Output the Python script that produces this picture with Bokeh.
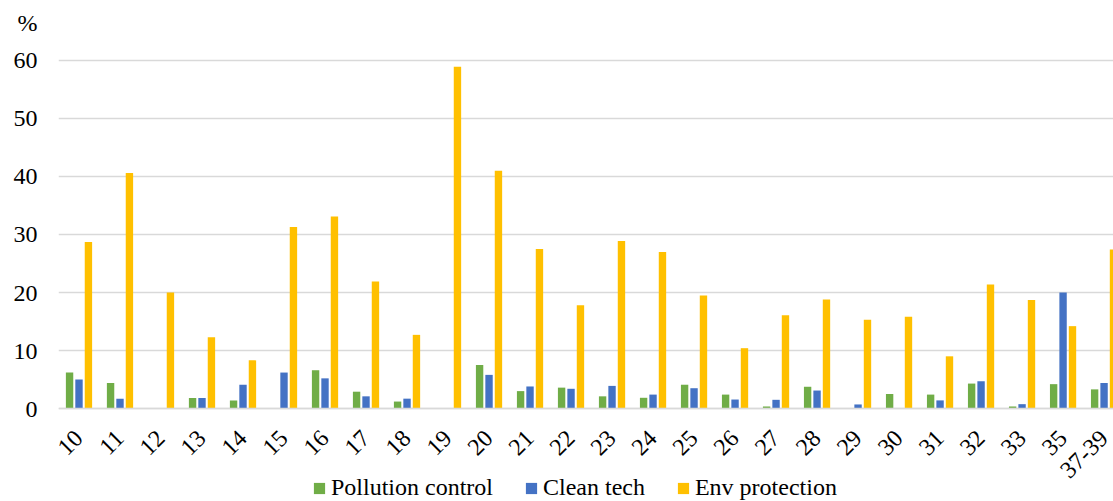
import numpy as np
from bokeh.plotting import figure
from bokeh.models import (ColumnDataSource, Range1d, FixedTicker, Legend, LegendItem)
from bokeh.transform import dodge
from bokeh.embed import file_html
from bokeh.resources import INLINE
from math import pi

categories = ["10", "11", "12", "13", "14", "15", "16", "17", "18", "19", "20", "21", "22",
              "23", "24", "25", "26", "27", "28", "29", "30", "31", "32", "33", "35", "37-39"]
pollution_control = [6.2, 4.4, 0.0, 1.8, 1.4, 0.0, 6.6, 2.9, 1.2, 0.0, 7.5, 3.0, 3.6,
                     2.1, 1.85, 4.1, 2.4, 0.35, 3.75, 0.0, 2.5, 2.4, 4.3, 0.35, 4.2, 3.3]
clean_tech = [5.0, 1.7, 0.0, 1.8, 4.1, 6.2, 5.2, 2.1, 1.7, 0.0, 5.8, 3.8, 3.4,
              3.9, 2.4, 3.5, 1.55, 1.5, 3.1, 0.7, 0.0, 1.4, 4.7, 0.75, 20.0, 4.4]
env_protection = [28.7, 40.6, 20.0, 12.3, 8.3, 31.3, 33.1, 21.9, 12.7, 58.9, 41.0, 27.5, 17.8,
                  28.9, 27.0, 19.5, 10.4, 16.1, 18.8, 15.3, 15.8, 9.0, 21.4, 18.7, 14.2, 27.4]
y_ticks = [0, 10, 20, 30, 40, 50, 60]
unit_label = "%"
series_names = ["Pollution control", "Clean tech", "Env protection"]
colors = ["#70AD47", "#4472C4", "#FFC000"]

FONT = "Liberation Serif"
FS = "24px"
UNIT_POS = 66.5  # where the unit label sits, above the top tick

src = ColumnDataSource(dict(x=list(range(len(categories))),
                            pc=pollution_control, ct=clean_tech, ep=env_protection))

p = figure(width=1113, height=501, output_backend="svg", toolbar_location=None,
           x_range=Range1d(-0.5, 25.23), y_range=Range1d(-16.03, 70.34),
           min_border_left=58, min_border_right=0, min_border_top=0, min_border_bottom=0)
p.outline_line_color = None
p.background_fill_color = "white"
p.border_fill_color = "white"

bw = 0.18
off = 0.23
r1 = p.vbar(x=dodge("x", -off), top="pc", width=bw, source=src, fill_color=colors[0], line_color=None)
r2 = p.vbar(x=dodge("x", 0.0), top="ct", width=bw, source=src, fill_color=colors[1], line_color=None)
r3 = p.vbar(x=dodge("x", off), top="ep", width=bw, source=src, fill_color=colors[2], line_color=None)

# x axis drawn at y = 0
p.xaxis.fixed_location = 0
p.xaxis.ticker = FixedTicker(ticks=list(range(len(categories))))
p.xaxis.major_label_overrides = {i: c for i, c in enumerate(categories)}
p.xaxis.major_label_orientation = pi / 4
p.xaxis.major_tick_line_color = None
p.xaxis.minor_tick_line_color = None
p.xaxis.axis_line_color = "#D9D9D9"
p.xaxis.axis_line_width = 1.3
p.xaxis.major_label_text_font = FONT
p.xaxis.major_label_text_font_size = FS
p.xaxis.major_label_text_color = "black"
p.xaxis.major_label_standoff = 20

# value axis, with the unit "%" shown above the top tick
p.yaxis.ticker = FixedTicker(ticks=y_ticks + [UNIT_POS])
p.yaxis.major_label_overrides = {UNIT_POS: unit_label}
p.yaxis.major_tick_line_color = None
p.yaxis.major_tick_out = 0
p.yaxis.major_tick_in = 0
p.yaxis.minor_tick_line_color = None
p.yaxis.axis_line_color = None
p.yaxis.major_label_text_font = FONT
p.yaxis.major_label_text_font_size = FS
p.yaxis.major_label_text_color = "black"
p.yaxis.major_label_standoff = 21

p.xgrid.grid_line_color = None
p.ygrid.grid_line_color = "#D9D9D9"
p.ygrid.grid_line_width = 1.3
p.ygrid.ticker = FixedTicker(ticks=y_ticks)

legend = Legend(items=[LegendItem(label=series_names[0], renderers=[r1]),
                       LegendItem(label=series_names[1], renderers=[r2]),
                       LegendItem(label=series_names[2], renderers=[r3])],
                orientation="horizontal", location=(254, 0),
                glyph_width=14, glyph_height=14, label_standoff=5, spacing=31,
                padding=0, margin=0, border_line_color=None, background_fill_alpha=0,
                label_text_font=FONT, label_text_font_size=FS, label_text_color="black")
p.add_layout(legend, "center")

open("out.html", "w").write(file_html(p, INLINE))
